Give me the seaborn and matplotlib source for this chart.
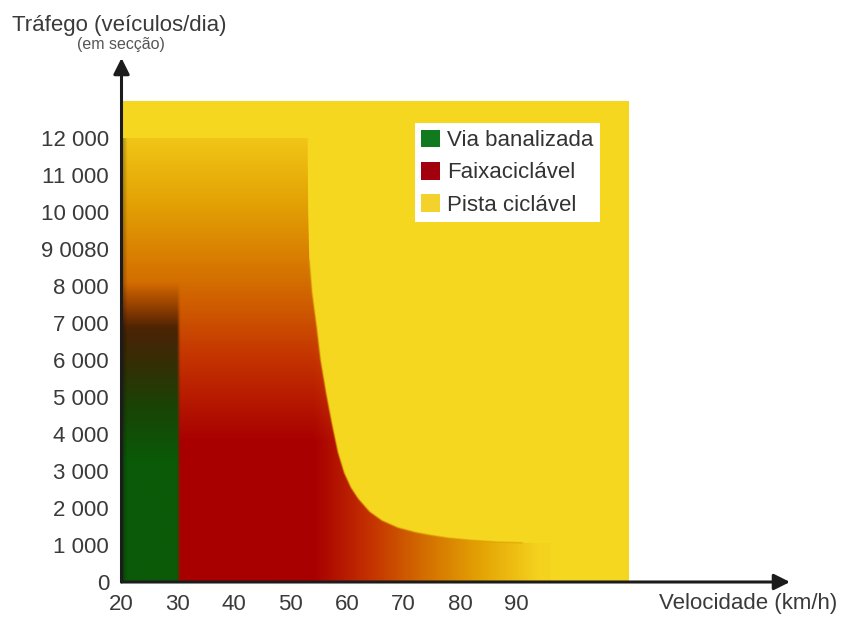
import numpy as np
import matplotlib
matplotlib.use("Agg")
import matplotlib.pyplot as plt
from matplotlib.patches import Polygon, Rectangle, Patch
from matplotlib.colors import LinearSegmentedColormap
import seaborn as sns

# Data
speed_ticks = [20, 30, 40, 50, 60, 70, 80, 90]
traffic_ticks = [0, 1000, 2000, 3000, 4000, 5000, 6000, 7000, 8000, 9000, 10000, 11000, 12000]
traffic_labels = ["0", "1 000", "2 000", "3 000", "4 000", "5 000", "6 000", "7 000",
                  "8 000", "9 0080", "10 000", "11 000", "12 000"]

# pista ciclável (background zone)
pista_speed = [20, 110]
pista_traffic = [0, 13000]

# via banalizada (green column)
via_speed = [20, 30]
via_traffic = [0, 7800]

# faixa ciclável: upper boundary
faixa_top = 12000
curve_speed = [53.0, 53.1, 53.3, 53.8, 54.6, 55.3, 56.3, 57.3, 58.4, 59.5, 60.7,
               62.0, 64.0, 66.2, 69.0, 72.2, 75.0, 78.0, 82.0, 86.8, 91.0, 96.0]
curve_traffic = [12000, 10000, 8700, 7800, 6900, 6000, 5100, 4300, 3500, 2950, 2550,
                 2250, 1900, 1660, 1470, 1340, 1260, 1190, 1130, 1080, 1060, 1050]

legend_labels = ["Via banalizada", "Faixaciclável", "Pista ciclável"]
legend_colors = ["#127A1E", "#A3000E", "#F4D22C"]

sns.set_style("white")
plt.rcParams["font.family"] = ["Liberation Sans", "DejaVu Sans"]

fig = plt.figure(figsize=(8.41, 6.17), dpi=100)
ax = fig.add_axes([121.5 / 841, 35 / 617, 668.5 / 841, 524 / 617])

yellow = "#F6D720"

# background yellow zone
ax.add_patch(Rectangle((pista_speed[0], pista_traffic[0]),
                       pista_speed[1] - pista_speed[0],
                       pista_traffic[1] - pista_traffic[0],
                       color=yellow, lw=0, zorder=1))

# gradient for faixa + via zones
v_max = curve_speed[-1]
vv, tt = np.meshgrid(np.linspace(via_speed[0], v_max, 500),
                     np.linspace(0, faixa_top, 600))

faixa_cmap = LinearSegmentedColormap.from_list(
    "faixa", [(0.0, "#A80000"), (0.25, "#C43200"), (0.5, "#D47000"),
              (0.75, "#E4A505"), (1.0, "#F5D21E")])
f_v = np.clip((tt - 3800) / 8800, 0, 1)
f_h = np.clip((vv - 54) / 40, 0, 1)
f = 1 - (1 - f_v) * (1 - f_h)
base = faixa_cmap(f)[..., :3]

g_t = [0, 3300, 4700, 5800, 6700, 7500]
g_r = [10, 10, 25, 50, 72, 100]
g_g = [90, 90, 68, 48, 36, 42]
g_b = [8, 8, 5, 5, 5, 0]
gcol = np.stack([np.interp(tt, g_t, g_r), np.interp(tt, g_t, g_g),
                 np.interp(tt, g_t, g_b)], axis=-1) / 255
w = np.interp(tt, [6900, via_traffic[1] + 300], [1, 0])
w = w * np.clip((via_speed[1] + 0.3 - vv) / 0.6, 0, 1)
rgb = w[..., None] * gcol + (1 - w[..., None]) * base

# slight shadow along the vertical axis
shade = 1 - 0.3 * np.clip((20.9 - vv) / 0.9, 0, 1)
rgb = rgb * shade[..., None]

img = ax.imshow(rgb, origin="lower", extent=(via_speed[0], v_max, 0, faixa_top),
                aspect="auto", interpolation="bilinear", zorder=2)
poly_pts = ([(via_speed[0], 0), (via_speed[0], faixa_top)]
            + list(zip(curve_speed, curve_traffic)) + [(v_max, 0)])
clip = Polygon(poly_pts, closed=True, transform=ax.transData)
img.set_clip_path(clip)

# soft edge along the curve
sns.lineplot(x=curve_speed[2:-1], y=curve_traffic[2:-1], sort=False, estimator=None,
             color="#DA9C00", lw=1.2, alpha=0.5, ax=ax, zorder=3)

ax.set_xlim(20, 20 + 668.5 / 5.64)
ax.set_ylim(0, 524 / 0.037)

# axes with arrows
for s in ax.spines.values():
    s.set_visible(False)
arrow_kw = dict(arrowstyle="-|>", lw=2.2, color="#1c1c1c", mutation_scale=24,
                shrinkA=0, shrinkB=0)
ax.annotate("", xy=(1, 0), xytext=(0, 0), xycoords="axes fraction",
            arrowprops=arrow_kw, zorder=6, annotation_clip=False)
ax.annotate("", xy=(0, 1), xytext=(0, 0), xycoords="axes fraction",
            arrowprops=arrow_kw, zorder=6, annotation_clip=False)

ax.set_xticks(speed_ticks)
ax.set_xticklabels([str(s) for s in speed_ticks])
ax.set_yticks(traffic_ticks)
ax.set_yticklabels(traffic_labels)
ax.tick_params(axis="both", length=0, labelsize=16, colors="#3a3a3a")
ax.tick_params(axis="y", pad=9)
ax.tick_params(axis="x", pad=9)
ax.grid(False)

# legend
handles = [Patch(facecolor=c, edgecolor="none") for c in legend_colors]
leg = ax.legend(handles, legend_labels, loc="upper right",
                bbox_to_anchor=(104.8, 12405), bbox_transform=ax.transData,
                fontsize=16, frameon=True, fancybox=False, framealpha=1,
                borderpad=0.3, handlelength=0.85, handleheight=0.85,
                handletextpad=0.3, labelspacing=0.48, borderaxespad=0)
leg.get_frame().set_edgecolor("none")
leg.get_frame().set_facecolor("white")
leg.set_zorder(7)
for t in leg.get_texts():
    t.set_color("#333333")

fig.text(12 / 841, 1 - 25 / 617, "Tráfego (veículos/dia)", fontsize=16,
         color="#3a3a3a", ha="left", va="center")
fig.text(121 / 841, 1 - 45 / 617, "(em secção)", fontsize=11.5,
         color="#555555", ha="center", va="center")
fig.text(837 / 841, 1 - 603 / 617, "Velocidade (km/h)", fontsize=16,
         color="#3a3a3a", ha="right", va="center")

fig.savefig("out.png", dpi=100)
